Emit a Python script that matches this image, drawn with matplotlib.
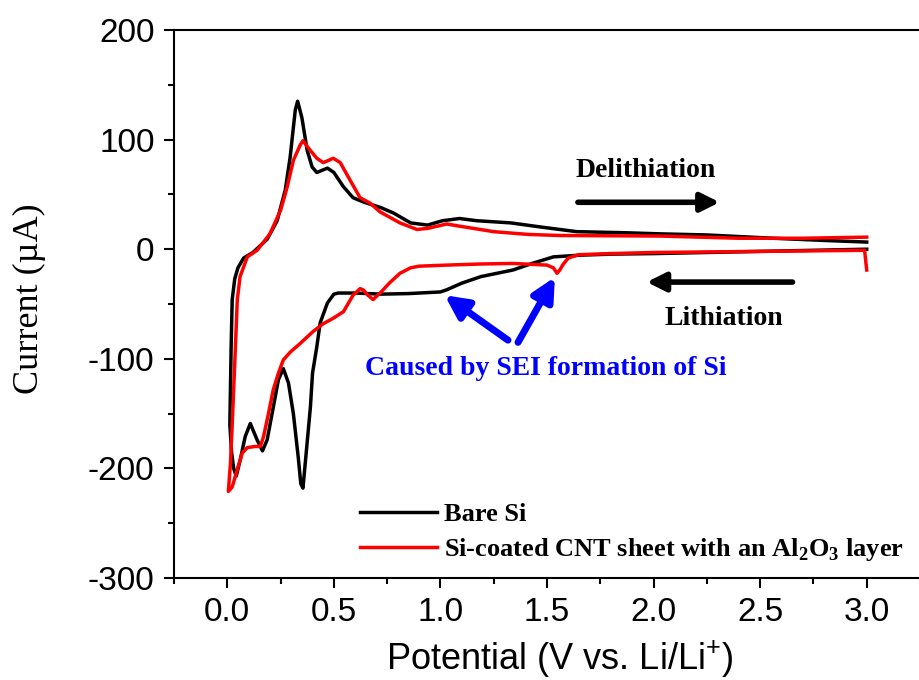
import numpy as np
import matplotlib
matplotlib.use('Agg')
import matplotlib.pyplot as plt
from matplotlib.ticker import MultipleLocator

plt.rcParams['mathtext.fontset'] = 'custom'
plt.rcParams['mathtext.rm'] = 'Liberation Serif'
plt.rcParams['mathtext.bf'] = 'Liberation Serif:bold'
plt.rcParams['mathtext.sf'] = 'Liberation Sans'
plt.rcParams['axes.unicode_minus'] = False

# Bare Si: cathodic scan 3.0 -> 0 V, then anodic scan back to 3.0 V
bare_v = [3.00, 2.75, 2.50, 2.25, 2.00, 1.80, 1.65, 1.53, 1.43, 1.34, 1.19, 1.10, 1.03, 1.00,
          0.85, 0.72, 0.60, 0.52, 0.50, 0.47, 0.436, 0.42, 0.40, 0.39, 0.373, 0.355, 0.345,
          0.333, 0.31, 0.287, 0.263, 0.24, 0.216, 0.187, 0.165, 0.14, 0.108, 0.084, 0.061,
          0.042, 0.030, 0.020, 0.012,
          0.014, 0.018, 0.023, 0.035, 0.05, 0.077, 0.12, 0.187, 0.234, 0.272, 0.295, 0.319,
          0.33, 0.35, 0.375, 0.398, 0.42, 0.445, 0.47, 0.50, 0.545, 0.59, 0.64, 0.72, 0.78,
          0.86, 0.94, 1.01, 1.09, 1.17, 1.33, 1.48, 1.64, 1.87, 2.03, 2.25, 2.56, 2.80, 3.00]
bare_i = [0, -1, -2, -3, -4, -4.5, -5.5, -7, -13, -19, -25, -31, -37, -39,
          -40.5, -41, -40, -40, -41, -49, -67, -89, -113, -144, -180, -218, -214,
          -190, -150, -122, -109, -119, -144, -174, -184, -174, -159, -171, -192,
          -207, -200, -185, -160,
          -137, -90, -46, -27, -17, -8, -3, 9, 26, 54, 84, 127,
          135, 120, 90, 75, 70, 72, 74, 70, 57, 47, 43, 38, 33,
          24, 22, 26, 28, 26, 24, 20, 16, 15, 14, 13, 10, 8, 6.5]

# Si-coated CNT sheet with an Al2O3 layer
cnt_v = [3.00, 2.99, 2.50, 2.00, 1.80, 1.65, 1.60, 1.575, 1.56, 1.547, 1.53, 1.50, 1.34, 1.19,
         1.03, 0.90, 0.86, 0.81, 0.76, 0.717, 0.70, 0.684, 0.66, 0.637, 0.623, 0.59, 0.545,
         0.497, 0.45, 0.403, 0.342, 0.295, 0.263, 0.24, 0.216, 0.19, 0.17, 0.155, 0.13,
         0.094, 0.07, 0.047, 0.023, 0.005,
         0.015, 0.022, 0.028, 0.038, 0.047, 0.06, 0.094, 0.14, 0.20, 0.25, 0.28, 0.31,
         0.342, 0.355, 0.39, 0.42, 0.45, 0.475, 0.497, 0.53, 0.576, 0.623, 0.67, 0.717,
         0.81, 0.89, 0.94, 1.03, 1.09, 1.25, 1.41, 1.56, 2.03, 2.40, 2.70, 3.00]
cnt_i = [-19, -1, -2, -3, -4, -5, -8, -14, -19, -22, -17, -14.5, -13, -13.5,
         -14.5, -15.5, -17, -22, -31, -40, -43, -46, -42, -37, -36, -42, -57,
         -63, -68, -75, -86, -94, -101, -113, -128, -153, -171, -180, -180,
         -181, -186, -201, -217, -221,
         -195, -165, -137, -90, -46, -25, -7, -1, 14, 35.5, 56, 81,
         95, 99, 90, 83, 79, 81, 83, 79, 63, 47, 42, 34,
         24, 18, 19, 23, 21, 16, 13.5, 12.5, 12, 10, 10, 11]

fig = plt.figure(figsize=(9.2, 6.8), dpi=100)
ax = fig.add_axes([174/920, 102/680, 746/920, 548/680])

ax.plot(bare_v, bare_i, color='black', lw=2.5, label='Bare Si')
ax.plot(cnt_v, cnt_i, color='red', lw=2.5,
        label=r'Si-coated CNT sheet with an Al$_\mathbf{2}$O$_\mathbf{3}$ layer')

ax.set_xlim(-0.25, 3.25)
ax.set_ylim(-300, 200)
ax.set_xticks(np.arange(0, 3.01, 0.5))
ax.xaxis.set_minor_locator(MultipleLocator(0.25))
ax.yaxis.set_major_locator(MultipleLocator(100))
ax.yaxis.set_minor_locator(MultipleLocator(50))

ax.spines['right'].set_visible(False)
for s in ['left', 'bottom', 'top']:
    ax.spines[s].set_linewidth(1.5)
ax.tick_params(which='major', direction='out', length=7, width=1.5, pad=7,
               labelsize=24, labelfontfamily='Liberation Sans')
ax.tick_params(which='minor', direction='out', length=4, width=1.5)
ax.set_xticklabels(['%.1f' % v for v in np.arange(0, 3.01, 0.5)])

ax.set_xlabel(r'Potential (V vs. Li/Li$^{\mathsf{+}}$)', fontsize=26, family='Liberation Sans')
ax.set_ylabel('Current (\u00b5A)', fontsize=26, family='Liberation Serif')
ax.xaxis.set_label_coords(0.517, -0.11)
ax.yaxis.set_label_coords(-0.172, 0.51)

bold = dict(family='Liberation Serif', weight='bold', fontsize=20)
ax.text(1.963, 72, 'Delithiation', ha='center', va='center', **bold)
ax.annotate('', xy=(2.31, 42.8), xytext=(1.645, 42.8),
            arrowprops=dict(arrowstyle='-|>', lw=4, color='black', mutation_scale=28,
                            shrinkA=0, shrinkB=0, capstyle='round'))
ax.text(2.33, -62.8, 'Lithiation', ha='center', va='center', **bold)
ax.annotate('', xy=(1.968, -30), xytext=(2.652, -30),
            arrowprops=dict(arrowstyle='-|>', lw=4, color='black', mutation_scale=28,
                            shrinkA=0, shrinkB=0, capstyle='round'))

ax.text(1.495, -109, 'Caused by SEI formation of Si', ha='center', va='center',
        color='blue', **bold)
ax.annotate('', xy=(1.02, -42), xytext=(1.317, -83),
            arrowprops=dict(arrowstyle='-|>', lw=5, color='blue', mutation_scale=34,
                            shrinkA=0, shrinkB=0))
ax.annotate('', xy=(1.537, -25.5), xytext=(1.364, -85),
            arrowprops=dict(arrowstyle='-|>', lw=5, color='blue', mutation_scale=34,
                            shrinkA=0, shrinkB=0))

leg = ax.legend(loc='lower left', bbox_to_anchor=(0.221, -0.012), frameon=False,
                prop=dict(family='Liberation Serif', weight='bold', size=19),
                handlelength=2.9, handletextpad=0.3, labelspacing=0.4, borderpad=0.3)

fig.savefig('out.png', dpi=100)
